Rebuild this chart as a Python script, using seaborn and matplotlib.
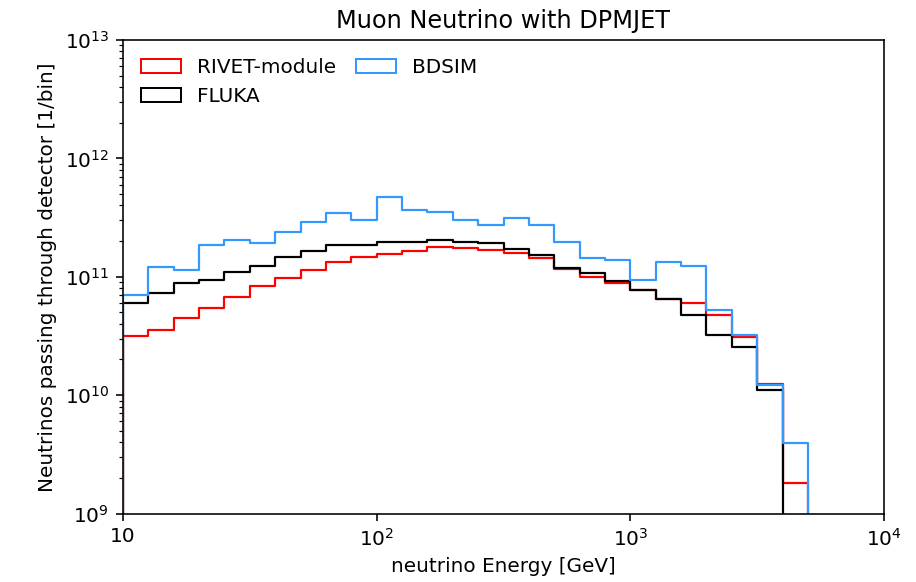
import numpy as np
import pandas as pd
import matplotlib
matplotlib.use("Agg")
import matplotlib.pyplot as plt
import matplotlib.patches as mpatches
from matplotlib.ticker import NullLocator, FixedLocator
import seaborn as sns

# Energy binning: 10 log-bins per decade, 10 GeV .. ~5 TeV,
# with one empty bin on either side so the outlines close down to the axis.
log_edges = np.round(np.arange(0.9, 3.85, 0.1), 2)
energy_edges = 10 ** log_edges

# Neutrinos per bin (10 GeV .. 5012 GeV)
rivet = [3.15e10, 3.54e10, 4.44e10, 5.4e10, 6.68e10, 8.33e10, 9.67e10, 1.14e11,
         1.34e11, 1.47e11, 1.55e11, 1.66e11, 1.79e11, 1.74e11, 1.68e11, 1.59e11,
         1.44e11, 1.17e11, 1.0e11, 8.77e10, 7.71e10, 6.55e10, 5.95e10, 4.73e10,
         3.1e10, 1.25e10, 1.82e9]
fluka = [5.95e10, 7.22e10, 8.77e10, 9.36e10, 1.10e11, 1.23e11, 1.47e11, 1.65e11,
         1.84e11, 1.84e11, 1.97e11, 1.97e11, 2.04e11, 1.97e11, 1.94e11, 1.70e11,
         1.53e11, 1.19e11, 1.07e11, 9.18e10, 7.71e10, 6.43e10, 4.73e10, 3.21e10,
         2.56e10, 1.11e10, 0.0]
bdsim = [6.98e10, 1.21e11, 1.14e11, 1.85e11, 2.04e11, 1.94e11, 2.40e11, 2.91e11,
         3.43e11, 3.01e11, 4.74e11, 3.66e11, 3.52e11, 3.01e11, 2.73e11, 3.11e11,
         2.73e11, 1.97e11, 1.43e11, 1.38e11, 9.36e10, 1.34e11, 1.23e11, 5.22e10,
         3.21e10, 1.21e10, 3.95e9]

labels = ["RIVET-module", "FLUKA", "BDSIM"]
colors = ["red", "black", "#3399ff"]
series = [rivet, fluka, bdsim]

x_ticks = [10, 100, 1000, 10000]
x_ticklabels = ["10", "$10^2$", "$10^3$", "$10^4$"]

# bin centres (geometric) used as sample positions, one entry per bin
centres = np.sqrt(energy_edges[:-1] * energy_edges[1:])

fig = plt.figure(figsize=(916 / 144, 582 / 144), dpi=144)
ax = fig.add_axes([123 / 916, 1 - 513.5 / 582, (884 - 123) / 916, (513.5 - 40) / 582])

for lab, col, vals in zip(labels, colors, series):
    weights = np.concatenate([[0.0], vals, [0.0]])
    df = pd.DataFrame({"energy": centres, "count": weights})
    sns.histplot(data=df, x="energy", weights="count", bins=list(energy_edges),
                 element="step", fill=False, color=col, linewidth=1.1,
                 ax=ax, legend=False)

ax.set_xscale("log")
ax.set_yscale("log")
ax.set_xlim(10, 1e4)
ax.set_ylim(1e9, 1e13)
ax.xaxis.set_major_locator(FixedLocator(x_ticks))
ax.set_xticklabels(x_ticklabels)
ax.xaxis.set_minor_locator(NullLocator())

ax.set_xlabel("neutrino Energy [GeV]")
ax.set_ylabel("Neutrinos passing through detector [1/bin]")
ax.set_title("Muon Neutrino with DPMJET")

handles = [mpatches.Patch(facecolor="none", edgecolor=c, label=l)
           for l, c in zip(labels, colors)]
ax.legend(handles=handles, loc="upper left", ncol=2, frameon=False,
          handlelength=2.0, handleheight=0.7, columnspacing=1.0)

fig.savefig("out.png", dpi=144)
